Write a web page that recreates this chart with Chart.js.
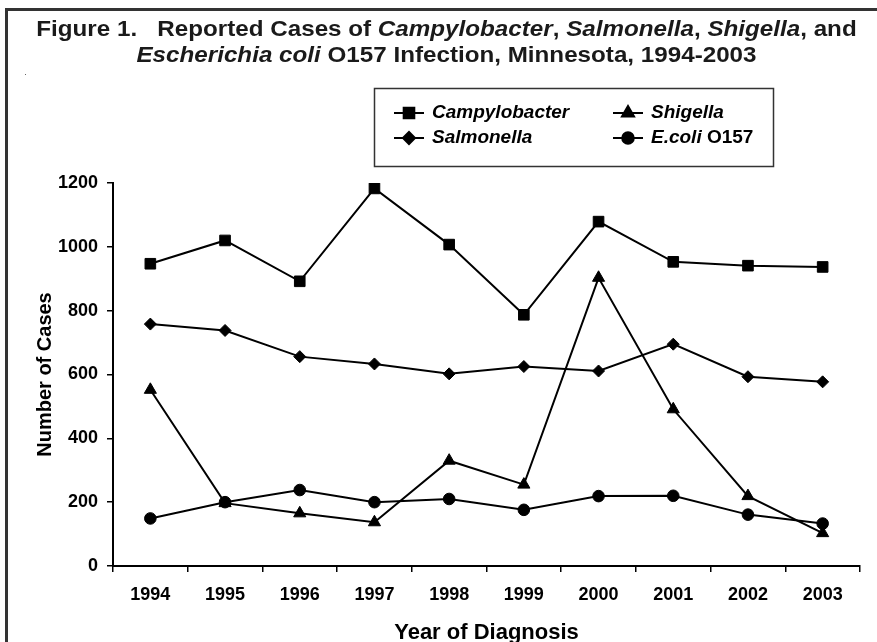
<!DOCTYPE html>
<html>
<head>
<meta charset="utf-8">
<script src="https://cdn.jsdelivr.net/npm/chart.js@4"></script>
<style>
  body { margin: 0; background: #fff; }
  #wrap { position: relative; width: 877px; height: 642px; overflow: hidden; }
  #frame { position: absolute; left: 5px; top: 8px; width: 900px; height: 700px; border: 3px solid #333; box-sizing: border-box; }
  #speck { position: absolute; left: 25px; top: 74px; width: 1px; height: 1px; background: #666; }
  #title { position: absolute; left: 8px; top: 16px; width: 877px; text-align: center; font: bold 22px "Liberation Sans", Arial, sans-serif; line-height: 26px; color: #1a1a1a; transform: scaleX(1.1); transform-origin: 50% 0; }
  canvas { position: absolute; left: 0; top: 0; }
</style>
</head>
<body>
<div id="wrap">
  <div id="frame"></div>
  <div id="speck"></div>
  <canvas id="chart" width="877" height="642"></canvas>
  <div id="title">Figure 1.&nbsp;&nbsp; Reported Cases of <i>Campylobacter</i>, <i>Salmonella</i>, <i>Shigella</i>, and<br><i>Escherichia coli</i> O157 Infection, Minnesota, 1994-2003</div>
</div>
<script>
const years = ['1994', '1995', '1996', '1997', '1998', '1999', '2000', '2001', '2002', '2003'];
const campylobacter = [947, 1020, 892, 1183, 1007, 787, 1079, 953, 941, 937];
const salmonella = [758, 738, 656, 633, 602, 625, 611, 695, 593, 577];
const shigella = [552, 197, 165, 137, 330, 255, 903, 491, 219, 103];
const ecoli = [149, 200, 238, 200, 210, 176, 219, 220, 161, 133];

const FONT = '"Liberation Sans", Arial, sans-serif';

function series(label, data, style, radius) {
    return {
        label: label,
        data: data,
        borderColor: '#000',
        backgroundColor: '#000',
        borderWidth: 2,
        pointStyle: style,
        pointRadius: radius,
        pointBorderWidth: 1,
        pointHoverRadius: radius,
        tension: 0
    };
}

// legend drawn by hand: the names mix italic and upright text
const legendRows = [
    { x: 394, y: 113, style: 'rect', r: 7.5, parts: [['italic', 'Campylobacter']] },
    { x: 394, y: 138, style: 'rectRot', r: 6, parts: [['italic', 'Salmonella']] },
    { x: 613, y: 113, style: 'triangle', r: 7, parts: [['italic', 'Shigella']] },
    { x: 613, y: 138, style: 'circle', r: 5.8, parts: [['italic', 'E.coli'], ['normal', ' O157']] }
];

const legendPlugin = {
    id: 'handLegend',
    afterDraw(chart) {
        const ctx = chart.ctx;
        ctx.save();
        ctx.strokeStyle = '#333';
        ctx.lineWidth = 1.5;
        ctx.strokeRect(374.5, 88.5, 399, 78);
        legendRows.forEach(row => {
            ctx.strokeStyle = '#000';
            ctx.lineWidth = 2;
            ctx.beginPath();
            ctx.moveTo(row.x, row.y);
            ctx.lineTo(row.x + 30, row.y);
            ctx.stroke();
            Chart.helpers.drawPoint(ctx, {
                pointStyle: row.style, radius: row.r, borderWidth: 1, rotation: 0
            }, row.x + 15, row.y);
            ctx.fillStyle = '#000';
            ctx.fill();
            let tx = row.x + 38;
            ctx.textBaseline = 'middle';
            row.parts.forEach(p => {
                ctx.font = p[0] + ' bold 19px ' + FONT;
                ctx.fillText(p[1], tx, row.y);
                tx += ctx.measureText(p[1]).width;
            });
        });
        ctx.restore();
    }
};

const ctx = document.getElementById('chart').getContext('2d');
new Chart(ctx, {
    type: 'line',
    data: {
        labels: years,
        datasets: [
            series('Campylobacter', campylobacter, 'rect', 7.5),
            series('Salmonella', salmonella, 'rectRot', 6),
            series('Shigella', shigella, 'triangle', 7),
            series('E.coli O157', ecoli, 'circle', 5.8)
        ]
    },
    options: {
        responsive: false,
        animation: false,
        layout: { padding: { top: 183, right: 17, left: 0, bottom: 0 } },
        plugins: {
            legend: { display: false },
            tooltip: { enabled: false }
        },
        scales: {
            x: {
                offset: true,
                grid: { offset: true, drawOnChartArea: false, drawTicks: true, tickLength: 6, color: '#000', lineWidth: 1.5 },
                border: { display: true, color: '#000', width: 2 },
                ticks: { color: '#000', padding: 12, font: { family: FONT, size: 18, weight: 'bold' } },
                title: {
                    display: true, text: 'Year of Diagnosis', color: '#000',
                    font: { family: FONT, size: 22, weight: 'bold', lineHeight: 1 },
                    padding: { top: 0, bottom: -2 }
                },
                afterFit(scale) { scale.height = 76; }
            },
            y: {
                min: 0,
                max: 1200,
                ticks: {
                    stepSize: 200, color: '#000', padding: 9,
                    font: { family: FONT, size: 18, weight: 'bold' },
                    callback: v => String(v)
                },
                grid: { drawOnChartArea: false, drawTicks: true, tickLength: 6, color: '#000', lineWidth: 1.5 },
                border: { display: true, color: '#000', width: 2 },
                title: {
                    display: true, text: 'Number of Cases', color: '#000',
                    font: { family: FONT, size: 20, weight: 'bold', lineHeight: 1 },
                    padding: { top: 35, bottom: 0 }
                },
                afterFit(scale) { scale.width = 113; }
            }
        }
    },
    plugins: [legendPlugin]
});
</script>
</body>
</html>
